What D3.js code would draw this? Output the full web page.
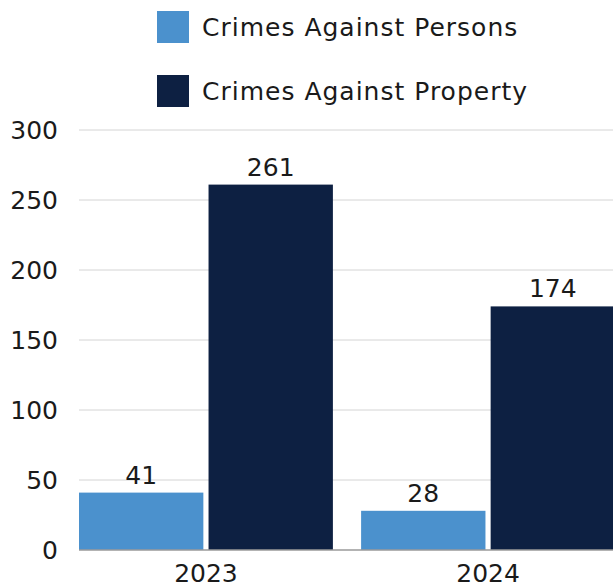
<!DOCTYPE html>
<html>
<head>
<meta charset="utf-8">
<script src="https://cdn.jsdelivr.net/npm/d3@7"></script>
<style>
  body { margin: 0; background: #fff; }
  text { font-family: "DejaVu Sans", sans-serif; fill: #1a1a1a; }
</style>
</head>
<body>
<div id="chart"></div>
<script>
const years = ["2023", "2024"];
const seriesNames = ["Crimes Against Persons", "Crimes Against Property"];
const persons = [41, 28];
const property = [261, 174];
const yTicks = [0, 50, 100, 150, 200, 250, 300];
const colors = ["#4b91cd", "#0d2042"];

const width = 613, height = 585;
const fontSize = 25;

const svg = d3.select("#chart").append("svg")
  .attr("width", width)
  .attr("height", height);

const x0 = d3.scaleBand().domain(years).range([79, 615])
  .paddingInner(0.1).paddingOuter(0);
const x1 = d3.scaleBand().domain(seriesNames).range([0, x0.bandwidth()])
  .paddingInner(0.04);
const y = d3.scaleLinear().domain([0, 300]).range([550, 130]);

// gridlines
svg.append("g")
  .selectAll("line")
  .data(yTicks.filter(d => d > 0))
  .join("line")
  .attr("x1", 79).attr("x2", width)
  .attr("y1", d => y(d)).attr("y2", d => y(d))
  .attr("stroke", "#d4d4d4").attr("stroke-width", 1);

// y tick labels
svg.append("g")
  .selectAll("text")
  .data(yTicks)
  .join("text")
  .attr("x", 58)
  .attr("y", d => y(d))
  .attr("dy", "0.36em")
  .attr("text-anchor", "end")
  .style("font-size", fontSize + "px")
  .text(d => d);

const rows = years.map((yr, i) => ({
  year: yr,
  values: [
    { name: seriesNames[0], value: persons[i] },
    { name: seriesNames[1], value: property[i] }
  ]
}));

const groups = svg.append("g")
  .selectAll("g")
  .data(rows)
  .join("g")
  .attr("transform", d => `translate(${x0(d.year)},0)`);

groups.selectAll("rect")
  .data(d => d.values)
  .join("rect")
  .attr("x", d => x1(d.name))
  .attr("width", x1.bandwidth())
  .attr("y", d => y(d.value))
  .attr("height", d => y(0) - y(d.value))
  .attr("fill", (d, i) => colors[i]);

groups.selectAll("text.val")
  .data(d => d.values)
  .join("text")
  .attr("class", "val")
  .attr("x", d => x1(d.name) + x1.bandwidth() / 2)
  .attr("y", d => y(d.value) - 9)
  .attr("text-anchor", "middle")
  .style("font-size", fontSize + "px")
  .text(d => d.value);

// baseline
svg.append("line")
  .attr("x1", 79).attr("x2", width)
  .attr("y1", y(0)).attr("y2", y(0))
  .attr("stroke", "#9a9a9a").attr("stroke-width", 1.5);

// x labels (partly cut at the bottom edge, as in the source)
svg.append("g")
  .selectAll("text")
  .data(years)
  .join("text")
  .attr("x", d => x0(d) + x0.bandwidth() / 2)
  .attr("y", 582)
  .attr("text-anchor", "middle")
  .style("font-size", fontSize + "px")
  .text(d => d);

// legend
const legend = svg.append("g")
  .selectAll("g")
  .data(seriesNames)
  .join("g")
  .attr("transform", (d, i) => `translate(157,${11 + i * 64})`);

legend.append("rect")
  .attr("width", 32).attr("height", 32)
  .attr("fill", (d, i) => colors[i]);

legend.append("text")
  .attr("x", 45)
  .attr("y", 16)
  .attr("dy", "0.36em")
  .style("font-size", fontSize + "px")
  .style("letter-spacing", "1px")
  .text(d => d);
</script>
</body>
</html>
